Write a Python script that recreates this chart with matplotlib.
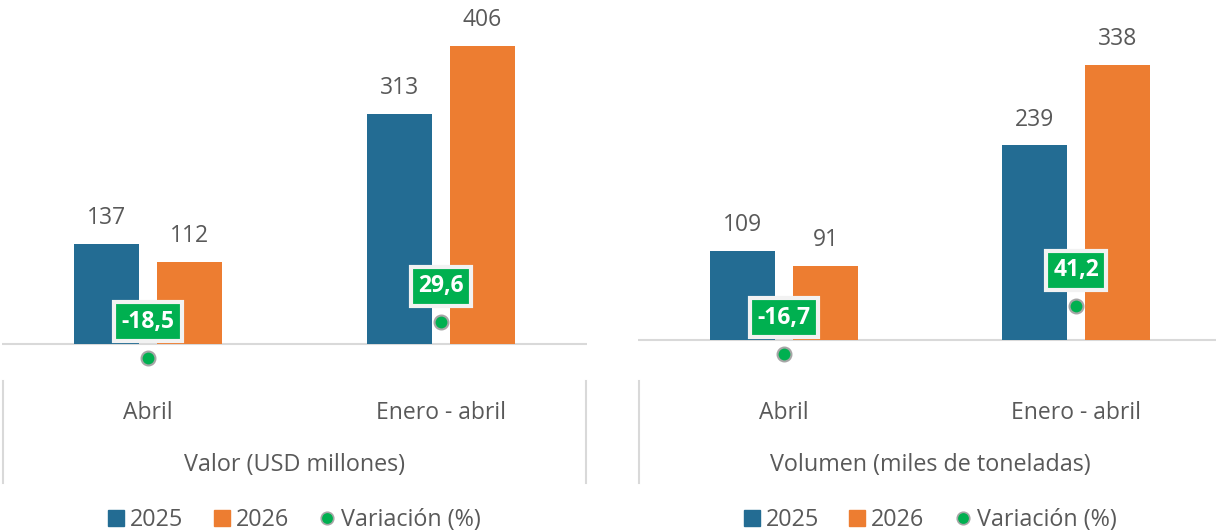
import matplotlib
matplotlib.use('Agg')
import numpy as np
from matplotlib import pyplot as plt
from matplotlib.lines import Line2D
from matplotlib.transforms import blended_transform_factory

plt.rcParams['font.family'] = ['Open Sans', 'DejaVu Sans']

categories = ['Abril', 'Enero - abril']
valor_2025 = [137, 313]
valor_2026 = [112, 406]
valor_var = [-18.5, 29.6]
volumen_2025 = [109, 239]
volumen_2026 = [91, 338]
volumen_var = [-16.7, 41.2]
group_titles = ['Valor (USD millones)', 'Volumen (miles de toneladas)']

c2025 = '#236C93'
c2026 = '#ED7D31'
cvar = '#00B050'
gray_txt = '#595959'
line_gray = '#D9D9D9'

fig = plt.figure(figsize=(12.16, 5.32), dpi=100)
ax1 = fig.add_axes([0.0016, 0.2981, 0.4811, 0.676])
ax2 = fig.add_axes([0.5247, 0.3073, 0.4803, 0.6885])

panels = [
    (ax1, valor_2025, valor_2026, valor_var, (-40, 450), group_titles[0]),
    (ax2, volumen_2025, volumen_2026, volumen_var, (-35, 415), group_titles[1]),
]

x = np.arange(len(categories))
w = 0.222
off = 0.1416

def fmt(v):
    return f'{v:.1f}'.replace('.', ',')

for ax, y25, y26, var, lim, title in panels:
    b1 = ax.bar(x - off, y25, w, color=c2025, zorder=2)
    b2 = ax.bar(x + off, y26, w, color=c2026, zorder=2)
    for bars, vals in [(b1, y25), (b2, y26)]:
        for rect, v in zip(bars, vals):
            ax.annotate(str(v), (rect.get_x() + rect.get_width() / 2, v),
                        xytext=(0, 10), textcoords='offset points',
                        ha='center', va='bottom', fontsize=16.5, color=gray_txt)
    ax.axhline(0, color=line_gray, lw=1.5, zorder=1)
    ax.set_xlim(-0.5, 1.5)
    ax.set_ylim(*lim)
    ax.axis('off')

    # variation on a secondary axis
    tw = ax.twinx()
    tw.set_ylim(*lim)
    tw.set_xlim(-0.5, 1.5)
    tw.plot(x, var, 'o', color=cvar, markersize=10, markeredgecolor='#A6A6A6',
            markeredgewidth=1.5, zorder=4)
    for xi, v in zip(x, var):
        tw.annotate(fmt(v), (xi, v), xytext=(0, 26), textcoords='offset points',
                    ha='center', va='center', fontsize=16.5, fontweight='bold',
                    color='white', zorder=5,
                    bbox=dict(boxstyle='square,pad=0.32', fc=cvar, ec='#F2F2F2', lw=3))
    tw.axis('off')

    # category labels and group title below
    tr = blended_transform_factory(ax.transData, fig.transFigure)
    for xi, cat in zip(x, categories):
        ax.text(xi, 1 - 413 / 532, cat, transform=tr, ha='center', va='center',
                fontsize=16.5, color=gray_txt)
    ax.text(0.5, 1 - 465 / 532, title, transform=tr, ha='center', va='center',
            fontsize=16.8, color=gray_txt)
    tra = blended_transform_factory(ax.transAxes, fig.transFigure)
    for xa in [0.002, 0.998]:
        fig.add_artist(Line2D([xa, xa], [1 - 381 / 532, 1 - 483 / 532], transform=tra,
                              color=line_gray, lw=1.5))

    handles = [
        Line2D([], [], marker='s', ls='none', color=c2025, markersize=11),
        Line2D([], [], marker='s', ls='none', color=c2026, markersize=11),
        Line2D([], [], marker='o', ls='none', color=cvar, markersize=9,
               markeredgecolor='#A6A6A6', markeredgewidth=1.2),
    ]
    leg = ax.legend(handles, ['2025', '2026', 'Variación (%)'], loc='center',
                    bbox_to_anchor=(0.5, 1 - 520 / 532), bbox_transform=tra,
                    ncol=3, frameon=False, fontsize=16.8, handlelength=0.7,
                    handletextpad=0.25, columnspacing=1.3, labelcolor=gray_txt)

fig.savefig('out.png', dpi=100)
